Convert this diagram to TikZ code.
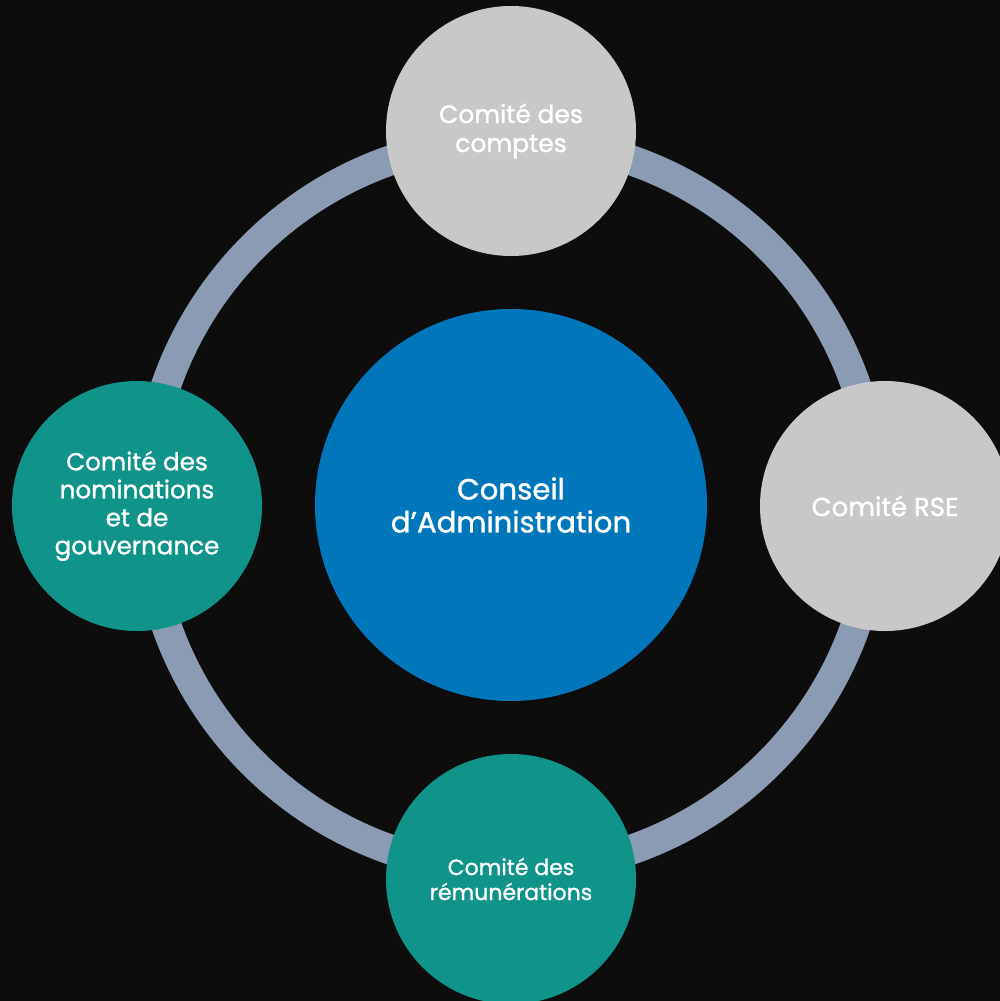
\documentclass[tikz,border=0pt]{standalone}
\usepackage{fontspec}
\setmainfont{Poppins}
\newfontfamily\medfont{Poppins}[FakeBold=1.2]
\definecolor{bg}{HTML}{0D0D0D}
\definecolor{ringc}{HTML}{8A9BB3}
\definecolor{grayc}{HTML}{C8C8C8}
\definecolor{tealc}{HTML}{10948A}
\definecolor{bluec}{HTML}{0077BB}
\begin{document}
\begin{tikzpicture}[x=0.5pt,y=-0.5pt,
  sat/.style={circle,minimum size=125pt,inner sep=0pt,text=white,align=center,font=\medfont\fontsize{12.5}{14.5}\selectfont},
  gsat/.style={sat,fill=grayc},
  tsat/.style={sat,fill=tealc}]
\fill[bg] (0,0) rectangle (1000,1001);
\useasboundingbox (0,0) rectangle (1000,1001);
\begin{scope}
\clip (0,0) rectangle (1000,1001);
\coordinate (c) at (511,505);
\draw[ringc,line width=15pt] (c) circle[radius=365];
\node[circle,fill=bluec,minimum size=196pt,inner sep=0pt,text=white,align=center,font=\medfont\fontsize{14.6}{16.5}\selectfont] (main) at (c) {Conseil\\d’Administration};
\node[gsat] (top) at (511,131) {Comité des\\comptes};
\node[gsat,font=\medfont\fontsize{13}{14.5}\selectfont] (right) at (885,506) {Comité RSE};
\node[tsat,font=\medfont\fontsize{11}{12.5}\selectfont] (bottom) at (511,879) {Comité des\\rémunérations};
\node[tsat,font=\medfont\fontsize{12.3}{14}\selectfont] (left) at (137,506) {Comité des\\nominations\\et de\\gouvernance};
\end{scope}
\end{tikzpicture}
\end{document}
